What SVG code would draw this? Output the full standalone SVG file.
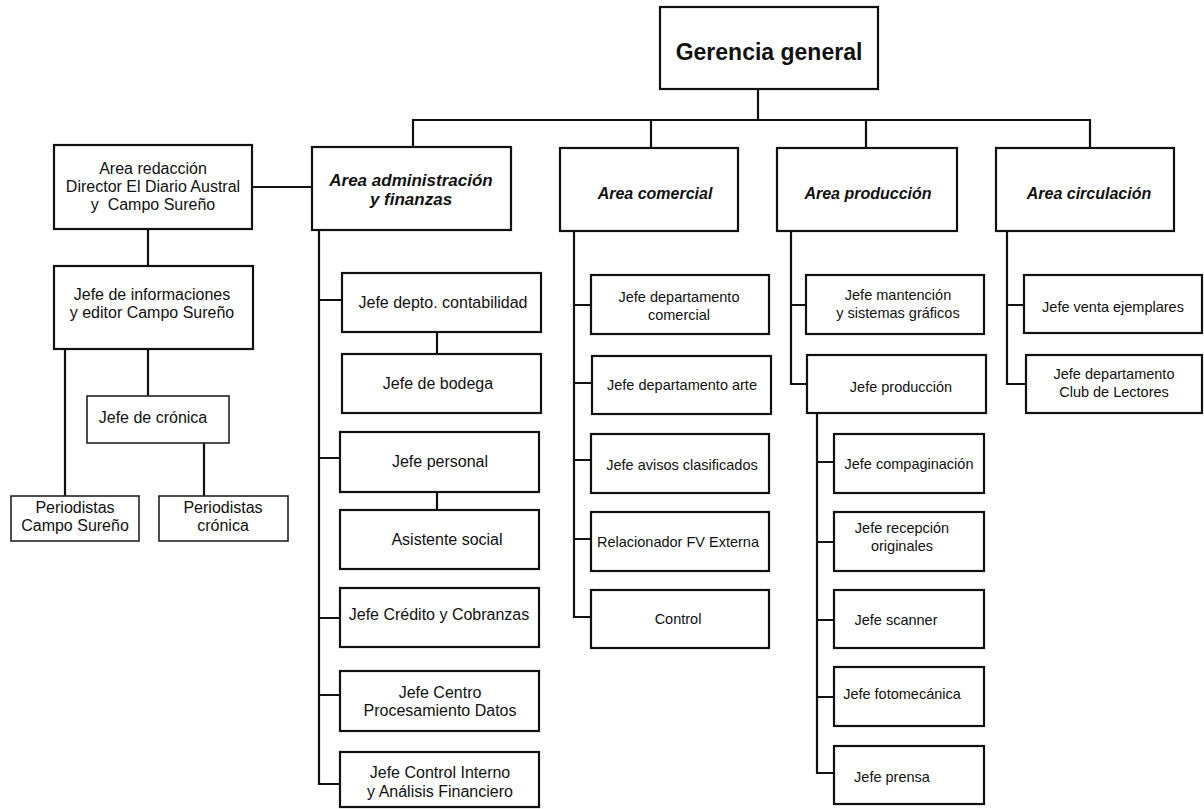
<svg xmlns="http://www.w3.org/2000/svg" width="1204" height="809" viewBox="0 0 1204 809">
<style>
.b{fill:#fff;stroke:#111;stroke-width:2.2}
.t{fill:#fff;stroke:#222;stroke-width:1.6}
.c{fill:none;stroke:#111;stroke-width:2.2;stroke-linecap:square}
text{font-family:"Liberation Sans",Arial,sans-serif;fill:#111;text-anchor:middle}
.s16{font-size:16px}
.s14{font-size:14.5px}
.h{font-size:16px;font-weight:bold;font-style:italic}
.g{font-size:23px;font-weight:bold}
</style>
<rect width="1204" height="809" fill="#fff"/>
<g id="connectors">
<path class="c" d="M758,89V120M413,120H1090M413,120V147M651,120V148M866,120V148M1090,120V148"/>
<path class="c" d="M252,187H312M148,229V266M65,349V496M148,349V396M204,443V496"/>
<path class="c" d="M319,230V784M319,300H342M319,458H340M319,618H340M319,695H340M319,784H340M437,332V354M437,492V510"/>
<path class="c" d="M574,231V617M574,305H591M574,383H592M574,460H591M574,539H591M574,617H591"/>
<path class="c" d="M791,231V384H807M791,305H806M817,413V773M817,462H834M817,542H834M817,620H834M817,697H834M817,773H834"/>
<path class="c" d="M1007,231V384H1026M1007,305H1024"/>
</g>
<g id="gerencia"><rect class="b" x="660" y="7" width="218" height="82"/><text class="g" x="769" y="60">Gerencia general</text></g>
<g id="redaccion"><rect class="b" x="54" y="145" width="198" height="84"/><text class="s16" x="153" y="174">Area redacción</text><text class="s16" x="153" y="192">Director El Diario Austral</text><text class="s16" x="153" y="210" xml:space="preserve">y  Campo Sureño</text></g>
<g id="informaciones"><rect class="b" x="54" y="266" width="199" height="83"/><text class="s16" x="152" y="300">Jefe de informaciones</text><text class="s16" x="152" y="318">y editor Campo Sureño</text></g>
<g id="cronica"><rect class="t" x="87" y="396" width="142" height="47"/><text class="s16" x="153" y="423">Jefe de crónica</text></g>
<g id="periodistas-cs"><rect class="t" x="11" y="496" width="128" height="45"/><text class="s16" x="75" y="513">Periodistas</text><text class="s16" x="75" y="531">Campo Sureño</text></g>
<g id="periodistas-cr"><rect class="t" x="159" y="496" width="129" height="45"/><text class="s16" x="223" y="513">Periodistas</text><text class="s16" x="223" y="531">crónica</text></g>
<g id="admin"><rect class="b" x="312" y="147" width="199" height="83"/><text class="h" x="411" y="186" style="font-size:17px">Area administración</text><text class="h" x="411" y="205" style="font-size:17px">y finanzas</text></g>
<g id="contabilidad"><rect class="b" x="342" y="273" width="199" height="59"/><text class="s16" x="443" y="308">Jefe depto. contabilidad</text></g>
<g id="bodega"><rect class="b" x="342" y="354" width="199" height="59"/><text class="s16" x="438" y="389">Jefe de bodega</text></g>
<g id="personal"><rect class="b" x="340" y="432" width="199" height="60"/><text class="s16" x="440" y="467">Jefe personal</text></g>
<g id="asistente"><rect class="b" x="340" y="510" width="199" height="59"/><text class="s16" x="447" y="545">Asistente social</text></g>
<g id="credito"><rect class="b" x="340" y="588" width="199" height="59"/><text class="s16" x="439" y="620">Jefe Crédito y Cobranzas</text></g>
<g id="centro"><rect class="b" x="340" y="671" width="199" height="60"/><text class="s16" x="440" y="698">Jefe Centro</text><text class="s16" x="440" y="716">Procesamiento Datos</text></g>
<g id="control-interno"><rect class="b" x="340" y="752" width="199" height="55"/><text class="s16" x="440" y="778">Jefe Control Interno</text><text class="s16" x="440" y="797">y Análisis Financiero</text></g>
<g id="comercial"><rect class="b" x="560" y="148" width="178" height="83"/><text class="h" x="655" y="199">Area comercial</text></g>
<g id="depto-comercial"><rect class="b" x="591" y="275" width="178" height="59"/><text class="s14" x="679" y="302">Jefe departamento</text><text class="s14" x="679" y="320">comercial</text></g>
<g id="depto-arte"><rect class="b" x="592" y="356" width="179" height="58"/><text class="s14" x="682" y="390">Jefe departamento arte</text></g>
<g id="avisos"><rect class="b" x="591" y="434" width="178" height="59"/><text class="s14" x="682" y="470">Jefe avisos clasificados</text></g>
<g id="relacionador"><rect class="b" x="591" y="512" width="178" height="59"/><text class="s14" x="678" y="547">Relacionador FV Externa</text></g>
<g id="control"><rect class="b" x="591" y="590" width="178" height="58"/><text class="s14" x="678" y="624">Control</text></g>
<g id="produccion"><rect class="b" x="777" y="148" width="180" height="83"/><text class="h" x="868" y="199">Area producción</text></g>
<g id="mantencion"><rect class="b" x="806" y="275" width="178" height="59"/><text class="s14" x="898" y="300">Jefe mantención</text><text class="s14" x="898" y="318">y sistemas gráficos</text></g>
<g id="jefe-produccion"><rect class="b" x="807" y="355" width="179" height="58"/><text class="s14" x="901" y="392">Jefe producción</text></g>
<g id="compaginacion"><rect class="b" x="834" y="434" width="150" height="59"/><text class="s14" x="909" y="469">Jefe compaginación</text></g>
<g id="recepcion"><rect class="b" x="834" y="512" width="150" height="59"/><text class="s14" x="902" y="533">Jefe recepción</text><text class="s14" x="902" y="551">originales</text></g>
<g id="scanner"><rect class="b" x="834" y="590" width="150" height="58"/><text class="s14" x="896" y="625">Jefe scanner</text></g>
<g id="fotomecanica"><rect class="b" x="834" y="667" width="150" height="59"/><text class="s14" x="902" y="699">Jefe fotomecánica</text></g>
<g id="prensa"><rect class="b" x="834" y="746" width="150" height="58"/><text class="s14" x="892" y="782">Jefe prensa</text></g>
<g id="circulacion"><rect class="b" x="996" y="148" width="178" height="83"/><text class="h" x="1089" y="199">Area circulación</text></g>
<g id="venta"><rect class="b" x="1024" y="275" width="178" height="58"/><text class="s14" x="1113" y="312">Jefe venta ejemplares</text></g>
<g id="club"><rect class="b" x="1026" y="355" width="176" height="58"/><text class="s14" x="1114" y="379">Jefe departamento</text><text class="s14" x="1114" y="397">Club de Lectores</text></g>
</svg>
